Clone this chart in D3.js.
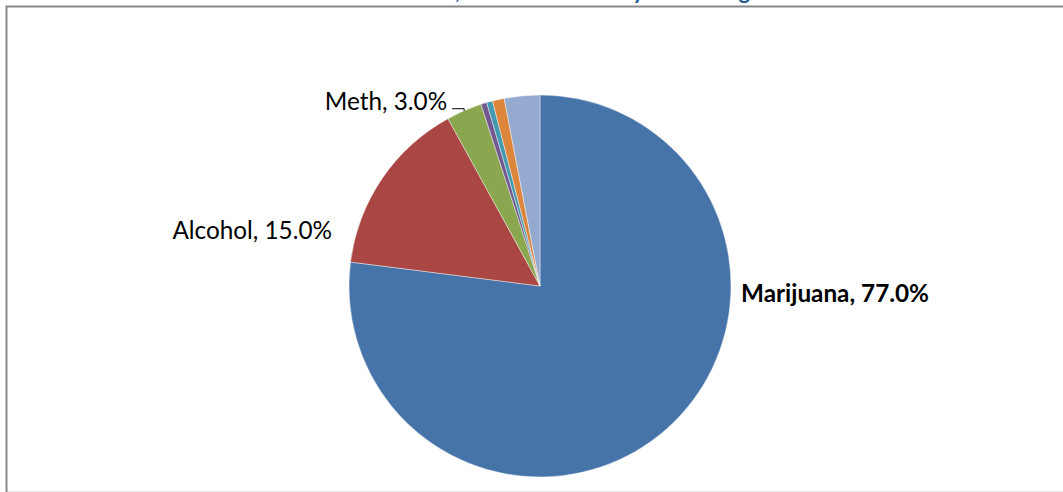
<!DOCTYPE html>
<html>
<head>
<meta charset="utf-8">
<script src="https://cdn.jsdelivr.net/npm/d3@7/dist/d3.min.js"></script>
<style>
  html, body { margin: 0; padding: 0; background: #fff; }
  svg { display: block; }
  text { font-family: Lato, "Open Sans", sans-serif; }
</style>
</head>
<body>
<svg id="chart" width="1063" height="492"></svg>
<script>
// ---- Data ----
const categories = ["Marijuana", "Alcohol", "Meth", "Cocaine", "Heroin", "Other Opiates", "Other"];
const values = [77.0, 15.0, 3.0, 0.5, 0.5, 1.0, 3.0];
const colors = ["#4673A8", "#AA4744", "#8AA64F", "#71598F", "#4299B0", "#DB853D", "#94AACF"];
const labelled = ["Marijuana", "Alcohol", "Meth"];
const titleText = "Treatment Admissions, All Adolescents by Illicit Drug";

const W = 1063, H = 492;
const svg = d3.select("#chart");

// frame
svg.append("line").attr("x1", 7).attr("x2", W).attr("y1", 491.5).attr("y2", 491.5)
  .attr("stroke", "#e2e2e2").attr("stroke-width", 1);
svg.append("path")
  .attr("d", `M6.5,${H} L6.5,6.5 L${W},6.5`)
  .attr("fill", "none").attr("stroke", "#878787").attr("stroke-width", 2);

// title (mostly clipped above the frame, as in the source)
const title = svg.append("text")
  .attr("y", -1.2)
  .attr("font-weight", "bold")
  .attr("font-size", 22)
  .attr("fill", "#2B5B8E")
  .text(titleText);
const commaIdx = titleText.indexOf(",");
const preLen = title.node().getSubStringLength(0, commaIdx);
title.attr("x", 455 - preLen);

// pie
const cx = 540, cy = 286, r = 191;
const data = categories.map((c, i) => ({ name: c, value: values[i], color: colors[i] }));
const pie = d3.pie().value(d => d.value).sort(null).startAngle(0).endAngle(2 * Math.PI);
const arcs = pie(data);
const arc = d3.arc().innerRadius(0).outerRadius(r);

const g = svg.append("g").attr("transform", `translate(${cx},${cy})`);
g.selectAll("path.slice").data(arcs).enter().append("path")
  .attr("class", "slice")
  .attr("d", arc)
  .attr("fill", d => d.data.color)
  .attr("stroke", "#ffffff")
  .attr("stroke-width", 0.6)
  .attr("stroke-opacity", 0.7);

const fmt = d3.format(".1f");
const lbl = d => `${d.data.name}, ${fmt(d.data.value)}%`;

// label placement (best-fit like)
arcs.forEach(d => {
  if (!labelled.includes(d.data.name)) return;
  const mid = (d.startAngle + d.endAngle) / 2;
  let x, y, anchor, weight = "normal";
  if (d.data.name === "Marijuana") {
    x = r + 10; y = 16; anchor = "start"; weight = "bold";
  } else if (d.data.name === "Alcohol") {
    x = -r - 17; y = -47; anchor = "end";
  } else {
    // Meth: label outside with leader line
    const ex = Math.sin(mid) * r, ey = -Math.cos(mid) * r;
    const lx = ex - 12, ly = ey - 2;
    g.append("path")
      .attr("d", `M${lx},${ly} L${ex},${ly} L${ex},${ey}`)
      .attr("fill", "none").attr("stroke", "#000").attr("stroke-width", 1);
    x = lx - 5; y = ly + 1; anchor = "end";
  }
  g.append("text")
    .attr("x", x).attr("y", y)
    .attr("text-anchor", anchor)
    .attr("font-size", 24.3)
    .attr("font-weight", weight)
    .attr("fill", "#000")
    .text(lbl(d));
});
</script>
</body>
</html>
